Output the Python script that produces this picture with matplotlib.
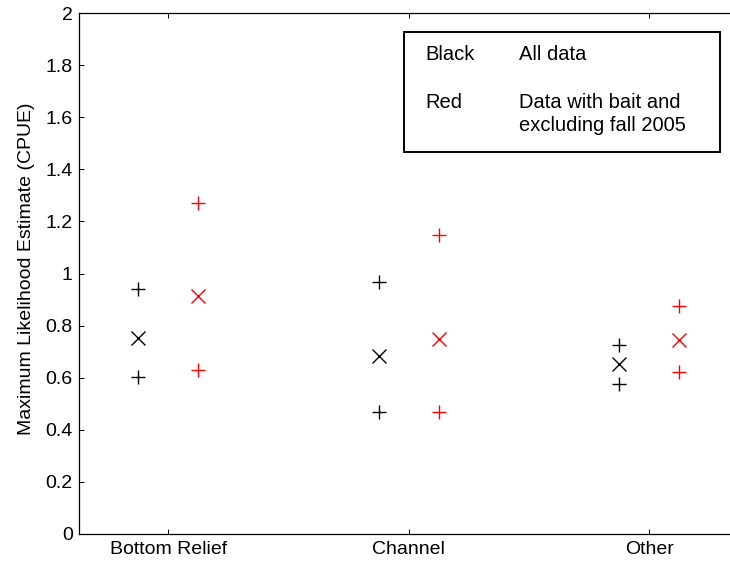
import numpy as np
import matplotlib
matplotlib.use("Agg")
import matplotlib.pyplot as plt

plt.rcParams['font.family'] = ['Liberation Sans', 'DejaVu Sans']

# данные
categories = ["Bottom Relief", "Channel", "Other"]
black_hi = [0.941, 0.967, 0.727]
black_mle = [0.753, 0.684, 0.654]
black_lo = [0.604, 0.470, 0.574]
red_hi = [1.270, 1.147, 0.876]
red_mle = [0.914, 0.750, 0.746]
red_lo = [0.631, 0.470, 0.620]
yticks = [0, 0.2, 0.4, 0.6, 0.8, 1, 1.2, 1.4, 1.6, 1.8, 2]
ytick_labels = ["0", "0.2", "0.4", "0.6", "0.8", "1", "1.2", "1.4", "1.6", "1.8", "2"]

x = np.arange(1, len(categories) + 1)
off = 0.125

W, H = 730, 561
fig = plt.figure(figsize=(W / 100, H / 100), dpi=100)
# ось уходит за правый край картинки, как на оригинале
left, right, top, bottom = 79, 745, 13, 534
ax = fig.add_axes([left / W, 1 - bottom / H, (right - left) / W, (bottom - top) / H])

ms = 9.5
ax.plot(x - off, black_hi, '+', color='black', ms=ms, mew=1)
ax.plot(x - off, black_lo, '+', color='black', ms=ms, mew=1)
ax.plot(x - off, black_mle, 'x', color='black', ms=ms, mew=1)
ax.plot(x + off, red_hi, '+', color='red', ms=ms, mew=1)
ax.plot(x + off, red_lo, '+', color='red', ms=ms, mew=1)
ax.plot(x + off, red_mle, 'x', color='red', ms=ms, mew=1)

ax.set_xlim(0.629, 0.629 + (right - left) / 240.5)
ax.set_ylim(0, 2)
ax.set_xticks(x)
ax.set_xticklabels(categories)
ax.set_yticks(yticks)
ax.set_yticklabels(ytick_labels)
ax.tick_params(direction='in', top=True, right=True, length=3.6, labelsize=14, width=0.7)
ax.tick_params(axis='x', pad=5)
ax.tick_params(axis='y', pad=4.5)
for s in ax.spines.values():
    s.set_linewidth(0.9)
ax.set_ylabel("Maximum Likelihood Estimate (CPUE)", fontsize=14)
ax.yaxis.set_label_coords((35 - left) / (right - left), 0.51)

# легенда-рамка
box = plt.Rectangle((404 / W, 1 - 152 / H), (720 - 404) / W, (152 - 32) / H,
                    transform=fig.transFigure, facecolor='white',
                    edgecolor='black', lw=1.4, zorder=5)
fig.patches.append(box)
fs = 14.5
fig.text(425 / W, 1 - 60 / H, "Black", fontsize=fs, va='baseline', ha='left', zorder=6)
fig.text(519 / W, 1 - 60 / H, "All data", fontsize=fs, va='baseline', ha='left', zorder=6)
fig.text(425 / W, 1 - 108 / H, "Red", fontsize=fs, va='baseline', ha='left', zorder=6)
fig.text(519 / W, 1 - 108 / H, "Data with bait and", fontsize=fs, va='baseline', ha='left', zorder=6)
fig.text(519 / W, 1 - 131 / H, "excluding fall 2005", fontsize=fs, va='baseline', ha='left', zorder=6)

fig.savefig("out.png", dpi=100)
